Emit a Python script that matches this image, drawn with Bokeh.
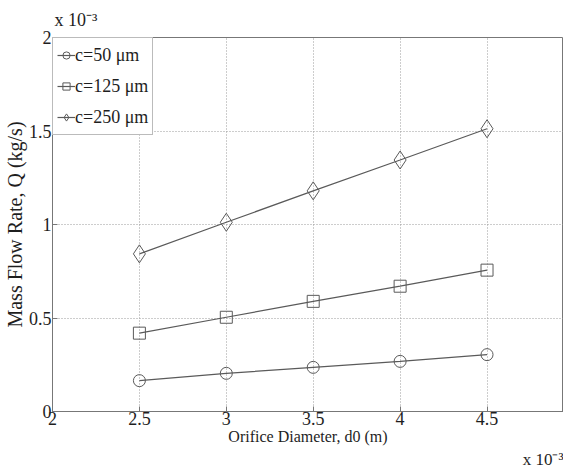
from bokeh.plotting import figure
from bokeh.models import Range1d, FixedTicker, Legend, LegendItem, Title
from bokeh.embed import file_html
from bokeh.resources import INLINE

d0 = [2.5, 3.0, 3.5, 4.0, 4.5]
q_c50 = [0.165, 0.204, 0.236, 0.268, 0.304]
q_c125 = [0.419, 0.504, 0.589, 0.670, 0.756]
q_c250 = [0.843, 1.012, 1.180, 1.345, 1.512]
labels = ["c=50 μm", "c=125 μm", "c=250 μm"]
x_ticks = [2, 2.5, 3, 3.5, 4, 4.5, 5]
y_ticks = [0, 0.5, 1, 1.5, 2]
exp_text = "x 10⁻³"

FONT = "Liberation Serif"
LC = "#5a5a5a"
TC = "#1e1e1e"

p = figure(width=563, height=468, output_backend="svg", toolbar_location=None,
           x_range=Range1d(2, 4.94), y_range=Range1d(0, 2),
           min_border_left=47, min_border_right=0, min_border_top=31, min_border_bottom=55)
p.background_fill_color = "white"
p.border_fill_color = "white"
p.outline_line_color = "#777777"
p.outline_line_width = 1

for ax in (p.xaxis[0], p.yaxis[0]):
    ax.major_label_text_font = FONT
    ax.major_label_text_font_size = "18px"
    ax.major_label_text_color = TC
    ax.axis_label_text_font = FONT
    ax.axis_label_text_font_style = "normal"
    ax.axis_label_text_color = TC
    ax.axis_line_color = "#777777"
    ax.major_tick_line_color = "#777777"
    ax.major_tick_in = 5
    ax.major_tick_out = 0
    ax.minor_tick_line_color = None

p.xaxis.ticker = FixedTicker(ticks=x_ticks)
p.yaxis.ticker = FixedTicker(ticks=y_ticks)
p.xaxis.axis_label = "Orifice Diameter, d0 (m)"
p.yaxis.axis_label = "Mass Flow Rate, Q (kg/s)"
p.xaxis.axis_label_text_font_size = "16px"
p.yaxis.axis_label_text_font_size = "20px"
p.xaxis.major_label_standoff = 0
p.yaxis.major_label_standoff = 1
p.xaxis.axis_label_standoff = 0
p.yaxis.axis_label_standoff = 0

p.xgrid.grid_line_color = "#9a9a9a"
p.ygrid.grid_line_color = "#9a9a9a"
p.xgrid.grid_line_dash = "1 2"
p.ygrid.grid_line_dash = "1 2"
p.xgrid.ticker = FixedTicker(ticks=x_ticks)
p.ygrid.ticker = FixedTicker(ticks=y_ticks)

l1 = p.line(d0, q_c50, line_color=LC, line_width=1.2)
m1 = p.scatter(d0, q_c50, marker="circle", size=12, line_color=LC, fill_alpha=0, line_width=1)
l2 = p.line(d0, q_c125, line_color=LC, line_width=1.2)
m2 = p.scatter(d0, q_c125, marker="square", size=12, line_color=LC, fill_alpha=0, line_width=1)
l3 = p.line(d0, q_c250, line_color=LC, line_width=1.2)
m3 = p.scatter(d0, q_c250, marker="diamond", size=18, line_color=LC, fill_alpha=0, line_width=1)

legend = Legend(items=[LegendItem(label=labels[0], renderers=[l1, m1]),
                       LegendItem(label=labels[1], renderers=[l2, m2]),
                       LegendItem(label=labels[2], renderers=[l3, m3])],
                location="top_left", margin=0, padding=4, spacing=5,
                glyph_height=26, glyph_width=18, label_height=26, label_standoff=0,
                label_text_font=FONT, label_text_font_size="18px", label_text_color=TC,
                border_line_color="#777777", background_fill_alpha=1)
p.add_layout(legend, "center")

p.add_layout(Title(text=exp_text, align="left", offset=2, standoff=15,
                   text_font=FONT, text_font_size="18px", text_font_style="normal",
                   text_color=TC), "above")
p.add_layout(Title(text=exp_text, align="right", offset=0, standoff=0,
                   text_font=FONT, text_font_size="17px", text_font_style="normal",
                   text_color=TC), "below")

open("out.html", "w").write(file_html(p, INLINE))
